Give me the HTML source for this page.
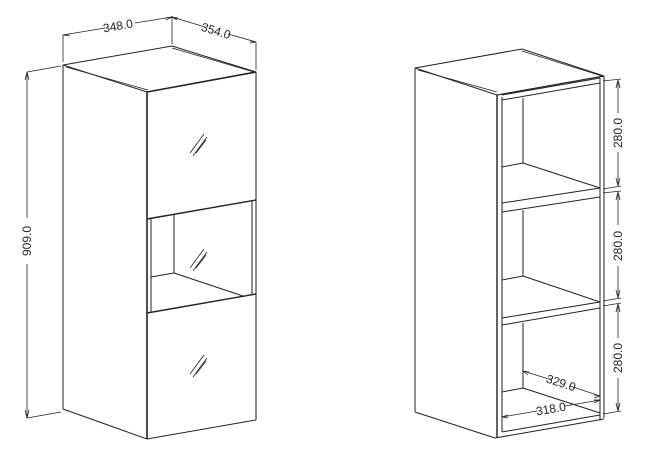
<!DOCTYPE html>
<html><head><meta charset="utf-8"><style>
html,body{margin:0;padding:0;background:#fff}
svg{display:block}
text{font-family:"Liberation Sans Narrow","Liberation Sans",sans-serif;font-size:12px;fill:#222}
</style></head><body>
<svg width="648" height="469" viewBox="0 0 648 469" xmlns="http://www.w3.org/2000/svg">
<g fill="none" stroke="#222" stroke-width="1">
<!-- LEFT CABINET -->
<polygon points="63,65 172,46 256,72 147,92" fill="#fff"/>
<line x1="66" y1="67" x2="148" y2="90" stroke-width="0.8"/>
<line x1="172" y1="48" x2="254" y2="72" stroke-width="0.8"/>
<line x1="63" y1="65" x2="63" y2="409"/>
<line x1="63" y1="409" x2="147" y2="439"/>
<line x1="147" y1="92" x2="147" y2="439" stroke-width="1.6"/>
<line x1="147" y1="92" x2="256" y2="72" stroke-width="1.6"/>
<line x1="256" y1="72" x2="256" y2="420"/>
<line x1="147" y1="439" x2="256" y2="420"/>
<line x1="147" y1="219" x2="256" y2="200" stroke-width="1.4"/>
<line x1="147" y1="313" x2="256" y2="294" stroke-width="1.4"/>
<line x1="151" y1="218" x2="151" y2="312"/>
<line x1="252" y1="201" x2="252" y2="295"/>
<line x1="174" y1="214" x2="174" y2="273"/>
<line x1="151" y1="277" x2="174" y2="273"/>
<line x1="174" y1="273" x2="243" y2="296"/>
<!-- glass marks -->
<g stroke-width="0.8">
<line x1="190" y1="153" x2="204" y2="134"/><line x1="193" y1="156" x2="207" y2="137"/><line x1="196" y1="153" x2="206" y2="140"/>
<line x1="190" y1="268" x2="204" y2="249"/><line x1="193" y1="271" x2="207" y2="252"/><line x1="196" y1="268" x2="206" y2="255"/>
<line x1="190" y1="374" x2="204" y2="355"/><line x1="193" y1="377" x2="207" y2="358"/><line x1="196" y1="374" x2="206" y2="361"/>
</g>
<!-- dims left -->
<g stroke-width="0.8">
<line x1="63" y1="35" x2="63" y2="62"/>
<line x1="172" y1="16" x2="172" y2="44"/>
<line x1="256" y1="42" x2="256" y2="70"/>
<line x1="63" y1="35" x2="105" y2="28"/><line x1="135" y1="23" x2="172" y2="17"/>
<line x1="172" y1="17" x2="205" y2="27"/><line x1="228" y1="34" x2="256" y2="42"/>
<polyline points="70,34 63,35 70,36"/><polyline points="165,18 172,17 166,20"/>
<polyline points="178,18 172,17 177,20"/><polyline points="250,41 256,42 250,43"/>
<line x1="27" y1="72" x2="61" y2="66"/>
<line x1="27" y1="72" x2="27" y2="218"/><line x1="27" y1="264" x2="27" y2="418"/>
<line x1="27" y1="418" x2="61" y2="412"/>
<polyline points="25,80 27,72 29,80"/><polyline points="25,410 27,418 29,410"/>
</g>
<!-- RIGHT CABINET -->
<polygon points="415,68 522,49 604,76 497,95" fill="#fff"/>
<line x1="418" y1="70" x2="497" y2="92" stroke-width="0.8"/>
<line x1="522" y1="51" x2="602" y2="76" stroke-width="0.8"/>
<line x1="415" y1="68" x2="415" y2="412"/>
<line x1="415" y1="412" x2="495" y2="438"/>
<line x1="497" y1="95" x2="497" y2="438" stroke-width="1.4"/>
<line x1="502" y1="97" x2="502" y2="432"/>
<line x1="497" y1="95" x2="604" y2="76"/>
<line x1="600" y1="78" x2="600" y2="420"/>
<line x1="604" y1="76" x2="604" y2="418"/>
<line x1="502" y1="95" x2="600" y2="78"/>
<line x1="502" y1="100" x2="600" y2="83"/>
<line x1="523" y1="98" x2="523" y2="163"/>
<line x1="502" y1="167" x2="523" y2="163"/><line x1="523" y1="163" x2="600" y2="188"/>
<line x1="502" y1="203" x2="600" y2="188"/><line x1="502" y1="212" x2="600" y2="197"/>
<line x1="523" y1="210" x2="523" y2="276"/>
<line x1="502" y1="280" x2="523" y2="276"/><line x1="523" y1="276" x2="600" y2="302"/>
<line x1="502" y1="318" x2="600" y2="302"/><line x1="502" y1="325" x2="600" y2="308"/>
<line x1="523" y1="323" x2="523" y2="388"/>
<line x1="502" y1="392" x2="523" y2="388"/><line x1="523" y1="388" x2="600" y2="413"/>
<line x1="502" y1="432" x2="600" y2="415"/>
<line x1="495" y1="438" x2="604" y2="419"/>
<!-- dims right -->
<g stroke-width="0.8">
<line x1="603" y1="81" x2="621" y2="79"/><line x1="603" y1="189" x2="621" y2="186"/>
<line x1="603" y1="193" x2="621" y2="191"/><line x1="603" y1="301" x2="621" y2="298"/>
<line x1="603" y1="306" x2="621" y2="303"/><line x1="603" y1="414" x2="621" y2="411"/>
<line x1="618" y1="80" x2="618" y2="113"/><line x1="618" y1="152" x2="618" y2="186"/>
<line x1="618" y1="192" x2="618" y2="225"/><line x1="618" y1="266" x2="618" y2="298"/>
<line x1="618" y1="304" x2="618" y2="338"/><line x1="618" y1="378" x2="618" y2="411"/>
<polyline points="616,88 618,80 620,88"/><polyline points="616,178 618,186 620,178"/>
<polyline points="616,200 618,192 620,200"/><polyline points="616,290 618,298 620,290"/>
<polyline points="616,312 618,304 620,312"/><polyline points="616,403 618,411 620,403"/>
<line x1="523" y1="371" x2="552" y2="380"/><line x1="570" y1="386" x2="600" y2="396"/>
<polyline points="529,372 523,371 528,375"/><polyline points="594,395 600,396 594,398"/>
<line x1="502" y1="417" x2="537" y2="411"/><line x1="565" y1="406" x2="600" y2="400"/>
<polyline points="508,415 502,417 508,418"/><polyline points="594,400 600,400 594,403"/>
</g>
</g>
<text x="118" y="30" transform="rotate(-10 118 26)" text-anchor="middle">348.0</text>
<text x="216" y="35" transform="rotate(17 216 31)" text-anchor="middle">354.0</text>
<text x="31" y="241" transform="rotate(-90 31 241)" text-anchor="middle">909.0</text>
<text x="622" y="133" transform="rotate(-90 622 133)" text-anchor="middle">280.0</text>
<text x="622" y="246" transform="rotate(-90 622 246)" text-anchor="middle">280.0</text>
<text x="622" y="358" transform="rotate(-90 622 358)" text-anchor="middle">280.0</text>
<text x="561" y="387" transform="rotate(18 561 383)" text-anchor="middle">329.0</text>
<text x="551" y="413" transform="rotate(-10 551 409)" text-anchor="middle">318.0</text>
</svg>
</body></html>
